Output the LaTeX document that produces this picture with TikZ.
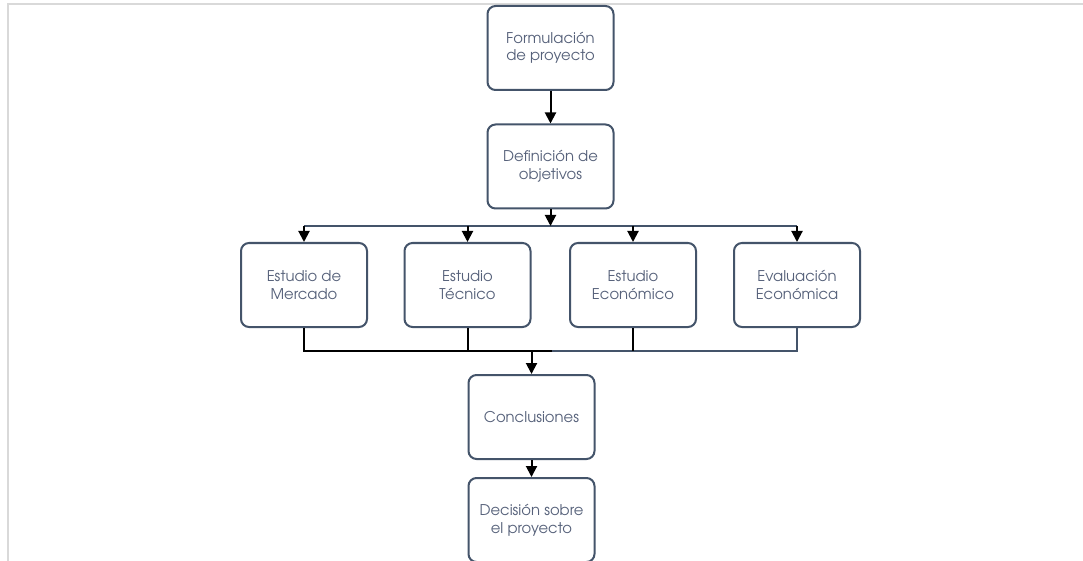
\documentclass[tikz,border=0pt]{standalone}
\usepackage{fontspec}
\setmainfont{TeX Gyre Adventor}
\usetikzlibrary{arrows.meta,calc}
\definecolor{slate}{HTML}{44546A}
\definecolor{txt}{HTML}{56617A}
\definecolor{frame}{HTML}{D9D9D9}
\tikzset{
  box/.style={draw=slate, line width=2pt, rounded corners=8pt, minimum width=126pt, minimum height=84pt,
    align=center, text=txt, font=\fontsize{14.8}{17.5}\selectfont, inner sep=2pt},
  conn/.style={line width=2pt, black},
  arr/.style={conn, -{Triangle[width=11pt,length=11pt]}},
  bus/.style={line width=2pt, slate}
}
\begin{document}
\begin{tikzpicture}[x=1pt,y=-1pt]
\useasboundingbox (0,0) rectangle (1083,561);
\fill[white] (0,0) rectangle (1083,561);
\draw[frame, line width=2.5pt] (8,561) -- (8,4) -- (1083,4);

\node[box] (f) at (550.5,48) {Formulación\\de proyecto};
\node[box] (d) at (550.5,166.5) {Definición de\\objetivos};
\node[box] (m1) at (304,285) {Estudio de\\Mercado};
\node[box] (m2) at (467.5,285) {Estudio\\Técnico};
\node[box] (m3) at (633,285) {Estudio\\Económico};
\node[box] (m4) at (797,285) {Evaluación\\Económica};
\node[box] (c) at (531.5,417) {Conclusiones};
\node[box] (dec) at (531.5,520) {Decisión sobre\\el proyecto};

\coordinate (tb) at (550.5,226);
\coordinate (bb) at (531.5,351);

\draw[arr] (f.south) -- (d.north);
\draw[bus] (m1.north |- tb) -- (m4.north |- tb);
\draw[arr] (d.south) -- (tb);
\foreach \n in {m1,m2,m3,m4} \draw[arr] (\n.north |- tb) -- (\n.north);

\draw[bus] (bb) -- (m4.south |- bb) -- (m4.south);
\draw[conn] (m1.south) -- (m1.south |- bb) -- ($(bb)+(20,0)$);
\draw[conn] (m2.south) -- (m2.south |- bb);
\draw[conn] (m3.south) -- (m3.south |- bb);
\draw[arr] (bb) -- (c.north);
\draw[arr] (c.south) -- (dec.north);
\end{tikzpicture}
\end{document}
